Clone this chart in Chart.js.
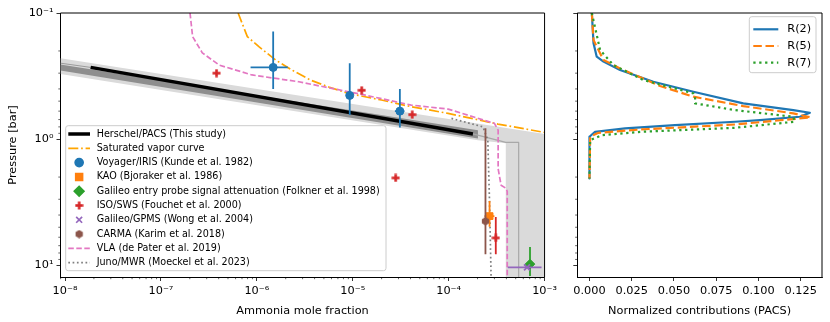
<!DOCTYPE html>
<html>
<head>
<meta charset="utf-8">
<script src="https://cdn.jsdelivr.net/npm/chart.js@4.4.1/dist/chart.umd.min.js"></script>
<style>
  html, body { margin: 0; padding: 0; background: #fff; }
  #wrap { position: relative; width: 830px; height: 322px; }
  #left { position: absolute; left: 0; top: 0; }
  #right { position: absolute; left: 560px; top: 0; }
</style>
</head>
<body>
<div id="wrap">
  <canvas id="left" width="560" height="322"></canvas>
  <canvas id="right" width="270" height="322"></canvas>
</div>
<script>
// axis ticks
const fractionTicks = [1e-8, 1e-7, 1e-6, 1e-5, 1e-4, 1e-3];
const pressureTicks = [0.1, 1, 10];
const contribTicks = [0, 0.025, 0.05, 0.075, 0.1, 0.125];

// Herschel/PACS profile + uncertainty
const pacsX = [1.85e-8, 1.79e-4];
const pacsP = [0.27, 0.91];
const pacsBandX = [8.97e-9, 2.02e-4];
const pacsBandTop = [0.256, 0.85];
const pacsBandBottom = [0.286, 0.99];
const pacsExtLeftX = [8.97e-9, 1.85e-8];
const pacsExtLeftP = [0.25, 0.27];
const pacsExtRightX = [1.79e-4, 3.94e-4, 5.37e-4, 5.37e-4];
const pacsExtRightP = [0.91, 1.06, 1.06, 12.4];
const envelopeX = [8.97e-9, 1e-3, 1e-3, 3.94e-4, 3.94e-4, 2.02e-4, 8.97e-9];
const envelopeP = [0.228, 0.91, 12.4, 12.4, 1.08, 1.02, 0.305];

// saturated vapor curve
const satX = [6.38e-7, 7.96e-7, 1.05e-6, 1.57e-6, 2.32e-6, 3.62e-6, 5.61e-6, 9.0e-6, 1.99e-5, 4.1e-5, 9.86e-5, 3.26e-4, 1.0e-3];
const satP = [0.1, 0.154, 0.185, 0.236, 0.283, 0.34, 0.386, 0.434, 0.49, 0.554, 0.625, 0.76, 0.885];

// Voyager/IRIS
const voyX = [1.48e-6, 9.3e-6, 3.1e-5];
const voyP = [0.27, 0.45, 0.60];
const voyXLo = [8.6e-7, null, 2.75e-5];
const voyXHi = [2.1e-6, null, 3.45e-5];
const voyPLo = [0.14, 0.25, 0.40];
const voyPHi = [0.40, 0.645, 0.81];

// KAO
const kaoX = [2.67e-4];
const kaoP = [4.08];
const kaoXLo = [2.36e-4], kaoXHi = [3.0e-4];
const kaoPLo = [3.09], kaoPHi = [4.96];

// Galileo probe attenuation
const probeX = [7.05e-4];
const probeP = [9.8];
const probeXLo = [6.7e-4], probeXHi = [7.4e-4];
const probePLo = [7.16], probePHi = [12.2];

// ISO/SWS
const isoX = [3.8e-7, 1.24e-5, 4.17e-5, 2.8e-5, 3.1e-4];
const isoP = [0.30, 0.41, 0.64, 2.03, 6.07];
const isoPLo = [null, null, null, null, 4.14];
const isoPHi = [null, null, null, null, 8.2];

// Galileo/GPMS
const gpmsX = [6.56e-4];
const gpmsP = [10.4];
const gpmsXLo = [4.13e-4], gpmsXHi = [9.3e-4];

// CARMA
const carmaX = [2.42e-4];
const carmaP = [4.48];
const carmaPLo = [0.82], carmaPHi = [8.2];

// VLA
const vlaX = [2.01e-7, 2.14e-7, 2.70e-7, 4.06e-7, 8.9e-7, 2.74e-6, 1.35e-5, 4.07e-5, 9.86e-5, 3.0e-4, 3.28e-4, 3.28e-4, 3.52e-4, 3.97e-4, 4.08e-4, 4.08e-4];
const vlaP = [0.1, 0.154, 0.207, 0.259, 0.31, 0.351, 0.448, 0.537, 0.578, 0.75, 0.85, 1.72, 2.32, 2.46, 2.6, 12.4];

// Juno/MWR
const junoX = [1.07e-4, 2.28e-4, 2.56e-4, 2.67e-4, 2.77e-4];
const junoP = [0.685, 0.80, 1.02, 3.22, 12.4];

// contribution functions (right panel)
const r2P = [0.1, 0.174, 0.222, 0.243, 0.283, 0.351, 0.421, 0.521, 0.589, 0.618, 0.665, 0.707, 0.728, 0.774, 0.823, 0.875, 0.957, 2.05];
const r2C = [0.0014, 0.0024, 0.0043, 0.0083, 0.0181, 0.0378, 0.0615, 0.091, 0.1206, 0.1304, 0.1245, 0.1009, 0.0861, 0.0506, 0.0211, 0.0033, 0.0, 0.0];
const r5P = [0.1, 0.164, 0.236, 0.275, 0.379, 0.461, 0.547, 0.625, 0.673, 0.766, 0.838, 0.891, 0.957, 2.05];
const r5C = [0.0014, 0.0024, 0.0083, 0.0181, 0.0418, 0.0615, 0.091, 0.1206, 0.1308, 0.0861, 0.0309, 0.0053, 0.0004, 0.0];
const r7P = [0.1, 0.197, 0.259, 0.34, 0.434, 0.461, 0.521, 0.589, 0.665, 0.728, 0.813, 0.875, 0.93, 1.02, 2.05];
const r7C = [0.0014, 0.0063, 0.0142, 0.0319, 0.0615, 0.0625, 0.0625, 0.0861, 0.1206, 0.1215, 0.0861, 0.0309, 0.0073, 0.0004, 0.0];

Chart.defaults.font.family = "'DejaVu Sans', sans-serif";
Chart.defaults.color = '#000';

const SUP = {'-': '⁻', '0': '⁰', '1': '¹', '2': '²', '3': '³', '4': '⁴', '5': '⁵', '6': '⁶', '7': '⁷', '8': '⁸', '9': '⁹'};
function pow10Label(v) {
    const e = Math.round(Math.log10(v));
    return '10' + String(e).split('').map(c => SUP[c]).join('');
}
const toPts = (xs, ys) => xs.map((x, i) => ({x: x, y: ys[i]}));

function markerCanvas(color, draw) {
    const c = document.createElement('canvas');
    c.width = 9; c.height = 9;
    const g = c.getContext('2d');
    g.fillStyle = color;
    draw(g);
    return c;
}
const plusMarker = markerCanvas('#d62728', g => {
    g.fillRect(0.5, 3.2, 8, 2.6);
    g.fillRect(3.2, 0.5, 2.6, 8);
});
const hexMarker = markerCanvas('#8c564b', g => {
    g.beginPath();
    for (let i = 0; i < 6; i++) {
        const a = Math.PI / 6 + i * Math.PI / 3;
        const px = 4.5 + 4.2 * Math.cos(a), py = 4.5 + 4.2 * Math.sin(a);
        i ? g.lineTo(px, py) : g.moveTo(px, py);
    }
    g.closePath();
    g.fill();
});

// minor log ticks + top/right spines
const frame = {
    id: 'frame',
    afterDraw(chart) {
        const ctx = chart.ctx, a = chart.chartArea;
        ctx.save();
        ctx.strokeStyle = '#000';
        ctx.lineWidth = 0.6;
        for (const id of Object.keys(chart.scales)) {
            const s = chart.scales[id];
            if (s.type !== 'logarithmic') continue;
            for (let e = Math.floor(Math.log10(s.min)); e <= Math.ceil(Math.log10(s.max)); e++) {
                for (let k = 2; k <= 9; k++) {
                    const v = k * Math.pow(10, e);
                    if (v <= s.min || v >= s.max) continue;
                    const p = s.getPixelForValue(v);
                    ctx.beginPath();
                    if (s.isHorizontal()) { ctx.moveTo(p, a.bottom); ctx.lineTo(p, a.bottom + 2.2); }
                    else { ctx.moveTo(a.left, p); ctx.lineTo(a.left - 2.2, p); }
                    ctx.stroke();
                }
            }
        }
        ctx.lineWidth = 1;
        ctx.beginPath();
        ctx.moveTo(a.left, a.top); ctx.lineTo(a.right, a.top); ctx.lineTo(a.right, a.bottom);
        ctx.stroke();
        ctx.restore();
    }
};

// filled uncertainty regions
const bands = {
    id: 'bands',
    beforeDatasetsDraw(chart, args, o) {
        if (!o || !o.polys) return;
        const xs = chart.scales.x, ys = chart.scales.y, a = chart.chartArea, ctx = chart.ctx;
        ctx.save();
        ctx.beginPath(); ctx.rect(a.left, a.top, a.right - a.left, a.bottom - a.top); ctx.clip();
        o.polys.forEach(pg => {
            ctx.beginPath();
            pg.x.forEach((x, i) => {
                const px = xs.getPixelForValue(x), py = ys.getPixelForValue(pg.y[i]);
                i ? ctx.lineTo(px, py) : ctx.moveTo(px, py);
            });
            ctx.closePath();
            ctx.fillStyle = pg.color;
            ctx.fill();
        });
        ctx.restore();
    }
};

// error bars drawn under each scatter set
const errorBars = {
    id: 'errorBars',
    beforeDatasetDraw(chart, args) {
        const d = chart.data.datasets[args.index];
        if (!d.err) return;
        const xs = chart.scales.x, ys = chart.scales.y, a = chart.chartArea, ctx = chart.ctx;
        ctx.save();
        ctx.beginPath(); ctx.rect(a.left, a.top, a.right - a.left, a.bottom - a.top); ctx.clip();
        ctx.strokeStyle = d.pointBorderColor;
        ctx.lineWidth = 1.8;
        d.data.forEach((pt, i) => {
            const px = xs.getPixelForValue(pt.x), py = ys.getPixelForValue(pt.y);
            const e = d.err;
            if (e.xLo && e.xLo[i] != null) {
                ctx.beginPath();
                ctx.moveTo(xs.getPixelForValue(e.xLo[i]), py);
                ctx.lineTo(xs.getPixelForValue(e.xHi[i]), py);
                ctx.stroke();
            }
            if (e.yLo && e.yLo[i] != null) {
                ctx.beginPath();
                ctx.moveTo(px, ys.getPixelForValue(e.yLo[i]));
                ctx.lineTo(px, ys.getPixelForValue(e.yHi[i]));
                ctx.stroke();
            }
        });
        ctx.restore();
    }
};

// matplotlib-like legend box
const boxLegend = {
    id: 'boxLegend',
    afterDatasetsDraw(chart, args, o) {
        if (!o || !o.box) return;
        const ctx = chart.ctx, b = o.box;
        const items = chart.data.datasets.filter(d => d.label);
        ctx.save();
        ctx.beginPath();
        if (ctx.roundRect) ctx.roundRect(b.x, b.y, b.w, b.h, 2.5); else ctx.rect(b.x, b.y, b.w, b.h);
        ctx.fillStyle = 'rgba(255,255,255,0.8)';
        ctx.fill();
        ctx.strokeStyle = '#cccccc';
        ctx.lineWidth = 1;
        ctx.stroke();
        ctx.font = o.font;
        ctx.textBaseline = 'middle';
        items.forEach((d, i) => {
            const y = o.firstY + i * o.rowH;
            if (d.showLine) {
                ctx.beginPath();
                ctx.setLineDash(d.borderDash || []);
                ctx.strokeStyle = d.borderColor;
                ctx.lineWidth = d.borderWidth;
                ctx.moveTo(o.hx0, y); ctx.lineTo(o.hx1, y);
                ctx.stroke();
                ctx.setLineDash([]);
            } else {
                ctx.fillStyle = d.pointBackgroundColor;
                ctx.strokeStyle = d.pointBorderColor;
                Chart.helpers.drawPoint(ctx, {
                    pointStyle: d.pointStyle, radius: d.pointRadius,
                    borderWidth: d.pointBorderWidth, rotation: 0
                }, (o.hx0 + o.hx1) / 2, y);
            }
            ctx.fillStyle = '#000';
            ctx.fillText(d.label, o.tx, y);
        });
        ctx.restore();
    }
};

function lineSet(label, xs, ys, color, width, dash, order) {
    return {
        label: label, data: toPts(xs, ys), showLine: true, pointRadius: 0,
        borderColor: color, borderWidth: width, borderDash: dash,
        borderJoinStyle: 'round', fill: false, order: order
    };
}
function pointSet(label, xs, ys, color, style, radius, border, err, order) {
    return {
        label: label, data: toPts(xs, ys), showLine: false,
        pointStyle: style, pointRadius: radius, pointBorderWidth: border,
        pointBackgroundColor: color, pointBorderColor: color, err: err, order: order
    };
}

const leftDatasets = [
    lineSet('Herschel/PACS (This study)', pacsX, pacsP, '#000000', 3.5, [], 10),
    lineSet('Saturated vapor curve', satX, satP, '#ffa500', 1.7, [10, 2.8, 1.7, 2.8], 9),
    pointSet('Voyager/IRIS (Kunde et al. 1982)', voyX, voyP, '#1f77b4', 'circle', 4, 1,
        {xLo: voyXLo, xHi: voyXHi, yLo: voyPLo, yHi: voyPHi}, 6),
    pointSet('KAO (Bjoraker et al. 1986)', kaoX, kaoP, '#ff7f0e', 'rect', 4.8, 1,
        {xLo: kaoXLo, xHi: kaoXHi, yLo: kaoPLo, yHi: kaoPHi}, 5),
    pointSet('Galileo entry probe signal attenuation (Folkner et al. 1998)', probeX, probeP, '#2ca02c', 'rectRot', 4.8, 1,
        {xLo: probeXLo, xHi: probeXHi, yLo: probePLo, yHi: probePHi}, 4),
    pointSet('ISO/SWS (Fouchet et al. 2000)', isoX, isoP, '#d62728', plusMarker, 4.5, 0,
        {yLo: isoPLo, yHi: isoPHi}, 3),
    pointSet('Galileo/GPMS (Wong et al. 2004)', gpmsX, gpmsP, '#9467bd', 'crossRot', 4.2, 1.8,
        {xLo: gpmsXLo, xHi: gpmsXHi}, 2),
    pointSet('CARMA (Karim et al. 2018)', carmaX, carmaP, '#8c564b', hexMarker, 4.5, 0,
        {yLo: carmaPLo, yHi: carmaPHi}, 1),
    lineSet('VLA (de Pater et al. 2019)', vlaX, vlaP, '#e377c2', 1.7, [5.5, 2.5], 8),
    lineSet('Juno/MWR (Moeckel et al. 2023)', junoX, junoP, '#7f7f7f', 1.7, [1.7, 2.6], 7),
    lineSet('', pacsExtLeftX, pacsExtLeftP, '#9a9a9a', 1, [], 12),
    lineSet('', pacsExtRightX, pacsExtRightP, '#a8a8a8', 1.2, [], 12)
];

const logTickFont = {size: 11.3};

new Chart(document.getElementById('left'), {
    type: 'scatter',
    data: {datasets: leftDatasets},
    options: {
        responsive: false,
        animation: false,
        layout: {padding: {top: 13, right: 13, left: 0, bottom: 0}},
        plugins: {
            legend: {display: false},
            tooltip: {enabled: false},
            bands: {polys: [
                {x: envelopeX, y: envelopeP, color: '#dadada'},
                {x: pacsBandX.concat(pacsBandX.slice().reverse()),
                 y: pacsBandTop.concat(pacsBandBottom.slice().reverse()), color: '#8e8e8e'}
            ]},
            boxLegend: {
                box: {x: 65.7, y: 125.7, w: 320.3, h: 145},
                firstY: 134, rowH: 14.3, hx0: 68.3, hx1: 90, tx: 96.7,
                font: "9.6px 'DejaVu Sans'"
            }
        },
        scales: {
            x: {
                type: 'logarithmic', min: 8.97e-9, max: 1e-3,
                afterBuildTicks: s => { s.ticks = fractionTicks.map(v => ({value: v})); },
                afterFit: s => { s.height = 45; },
                ticks: {callback: v => pow10Label(v), font: logTickFont, padding: 3, maxRotation: 0, autoSkip: false},
                grid: {drawOnChartArea: false, color: '#000', tickLength: 4, lineWidth: 0.8},
                border: {color: '#000', width: 1},
                title: {display: true, text: 'Ammonia mole fraction', font: {size: 11.3}, padding: {top: 2, bottom: 4}}
            },
            y: {
                type: 'logarithmic', reverse: true, min: 0.1, max: 12.4,
                afterBuildTicks: s => { s.ticks = pressureTicks.map(v => ({value: v})); },
                afterFit: s => { s.width = 60.5; },
                ticks: {callback: v => pow10Label(v), font: logTickFont, padding: 3},
                grid: {drawOnChartArea: false, color: '#000', tickLength: 4, lineWidth: 0.8},
                border: {color: '#000', width: 1},
                title: {display: true, text: 'Pressure [bar]', font: {size: 11.3}, padding: {top: 6, bottom: 2}}
            }
        }
    },
    plugins: [bands, errorBars, frame, boxLegend]
});

new Chart(document.getElementById('right'), {
    type: 'scatter',
    data: {datasets: [
        lineSet('R(2)', r2C, r2P, '#1f77b4', 2.2, [], 3),
        lineSet('R(5)', r5C, r5P, '#ff7f0e', 2.2, [8.5, 3.7], 2),
        lineSet('R(7)', r7C, r7P, '#2ca02c', 2.2, [2.3, 3.6], 1)
    ]},
    options: {
        responsive: false,
        animation: false,
        layout: {padding: {top: 13, right: 8, left: 0, bottom: 0}},
        plugins: {
            legend: {display: false},
            tooltip: {enabled: false},
            boxLegend: {
                box: {x: 189.3, y: 16.7, w: 66.7, h: 56},
                firstY: 29.3, rowH: 16.7, hx0: 193.3, hx1: 218.3, tx: 227.3,
                font: "11.3px 'DejaVu Sans'"
            }
        },
        scales: {
            x: {
                type: 'linear', min: -0.0072, max: 0.1376,
                afterBuildTicks: s => { s.ticks = contribTicks.map(v => ({value: v})); },
                afterFit: s => { s.height = 45; },
                ticks: {callback: v => v.toFixed(3), font: {size: 11.3}, padding: 3, maxRotation: 0, autoSkip: false},
                grid: {drawOnChartArea: false, color: '#000', tickLength: 4, lineWidth: 0.8},
                border: {color: '#000', width: 1},
                title: {display: true, text: 'Normalized contributions (PACS)', font: {size: 11.3}, padding: {top: 2, bottom: 4}}
            },
            y: {
                type: 'logarithmic', reverse: true, min: 0.1, max: 12.4,
                afterBuildTicks: s => { s.ticks = pressureTicks.map(v => ({value: v})); },
                afterFit: s => { s.width = 17.3; },
                ticks: {callback: () => '', padding: 0},
                grid: {drawOnChartArea: false, color: '#000', tickLength: 4, lineWidth: 0.8},
                border: {color: '#000', width: 1}
            }
        }
    },
    plugins: [errorBars, frame, boxLegend]
});
</script>
</body>
</html>
